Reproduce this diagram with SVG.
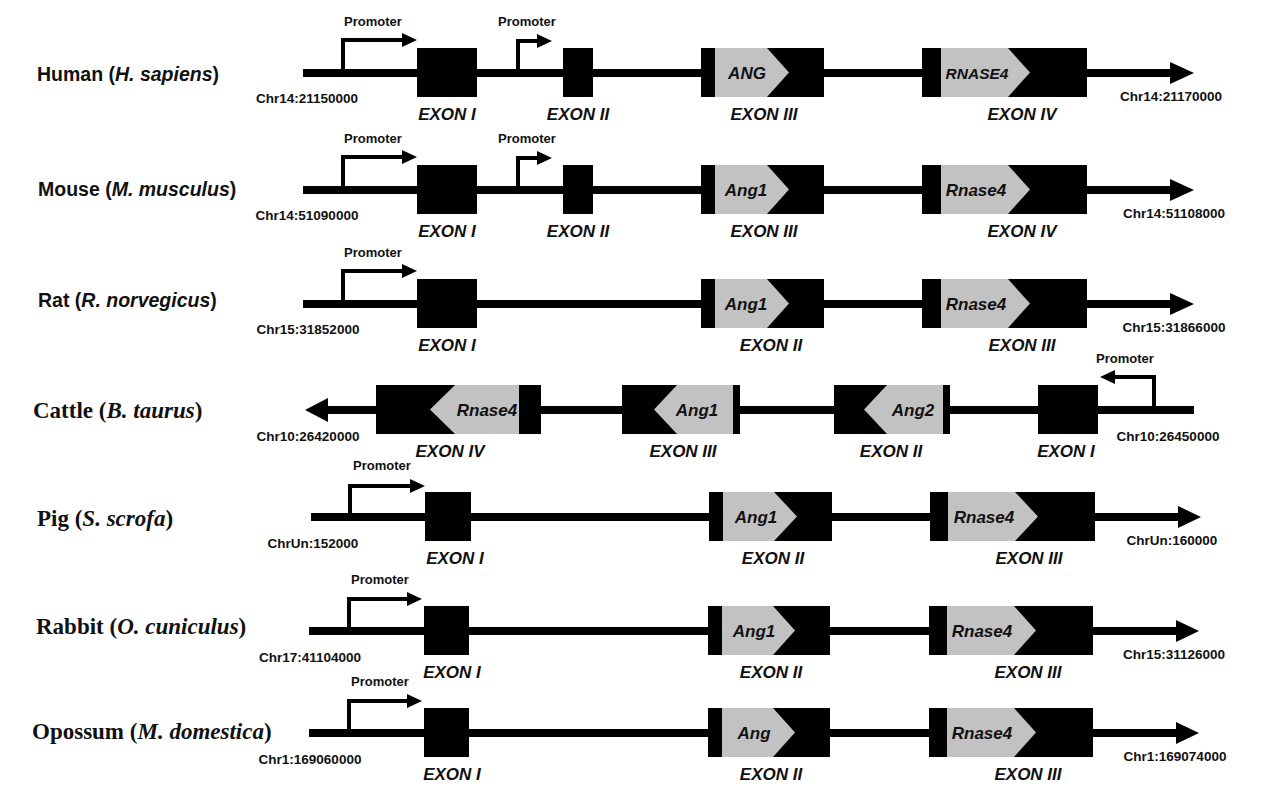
<svg xmlns="http://www.w3.org/2000/svg" width="1269" height="799" viewBox="0 0 1269 799">
<style>
.bb{stroke:#000;stroke-width:8;fill:none}
.ah{fill:#000}
.ex{fill:#000}
.gr{fill:#c2c2c2}
.pr{fill:none;stroke:#000;stroke-width:4}
.pt{font-family:"Liberation Sans",Arial,sans-serif;font-weight:bold;font-size:13px;text-anchor:middle;fill:#111}
.chr{font-family:"Liberation Sans",Arial,sans-serif;font-weight:bold;font-size:13.5px;text-anchor:middle;fill:#111}
.exl{font-family:"Liberation Sans",Arial,sans-serif;font-weight:bold;font-style:italic;font-size:17px;text-anchor:middle;fill:#111}
.gn{font-family:"Liberation Sans",Arial,sans-serif;font-weight:bold;font-style:italic;font-size:17px;text-anchor:middle;fill:#111}
.sps{font-family:"Liberation Sans",Arial,sans-serif;font-weight:bold;font-size:19.5px;fill:#111}
.spr{font-family:"Liberation Serif","Times New Roman",serif;font-weight:bold;font-size:23px;fill:#111}
.i{font-style:italic}
</style>
<rect width="1269" height="799" fill="#fff"/>

<g id="connectors">
  <!-- Human -->
  <line class="bb" x1="303" y1="73" x2="1172" y2="73"/>
  <polygon class="ah" points="1170,62 1194,73 1170,84"/>
  <path class="pr" d="M343,73 V40 H404"/>
  <polygon class="ah" points="402,33 417,40 402,47"/>
  <path class="pr" d="M518,73 V41 H539"/>
  <polygon class="ah" points="537,34 552,41 537,48"/>
  <!-- Mouse -->
  <line class="bb" x1="303" y1="190" x2="1172" y2="190"/>
  <polygon class="ah" points="1170,179 1194,190 1170,201"/>
  <path class="pr" d="M343,190 V157 H404"/>
  <polygon class="ah" points="402,150 417,157 402,164"/>
  <path class="pr" d="M518,190 V158 H539"/>
  <polygon class="ah" points="537,151 552,158 537,165"/>
  <!-- Rat -->
  <line class="bb" x1="303" y1="304" x2="1172" y2="304"/>
  <polygon class="ah" points="1170,293 1194,304 1170,315"/>
  <path class="pr" d="M343,304 V271 H404"/>
  <polygon class="ah" points="402,264 417,271 402,278"/>
  <!-- Cattle -->
  <line class="bb" x1="326" y1="410" x2="1194" y2="410"/>
  <polygon class="ah" points="328,398 305,410 328,422"/>
  <path class="pr" d="M1154,410 V377 H1113"/>
  <polygon class="ah" points="1115,370 1100,377 1115,384"/>
  <!-- Pig -->
  <line class="bb" x1="311" y1="517" x2="1180" y2="517"/>
  <polygon class="ah" points="1178,506 1201,517 1178,528"/>
  <path class="pr" d="M350,517 V486 H412"/>
  <polygon class="ah" points="410,479 425,486 410,493"/>
  <!-- Rabbit -->
  <line class="bb" x1="309" y1="631" x2="1178" y2="631"/>
  <polygon class="ah" points="1176,620 1199,631 1176,642"/>
  <path class="pr" d="M349,631 V599 H409"/>
  <polygon class="ah" points="407,592 422,599 407,606"/>
  <!-- Opossum -->
  <line class="bb" x1="309" y1="733" x2="1178" y2="733"/>
  <polygon class="ah" points="1176,722 1199,733 1176,744"/>
  <path class="pr" d="M349,733 V701 H409"/>
  <polygon class="ah" points="407,694 422,701 407,708"/>
</g>

<!-- Species labels -->
<g id="labels">
  <text class="sps" x="37" y="81">Human (<tspan class="i">H. sapiens</tspan>)</text>
  <text class="sps" x="38" y="196">Mouse (<tspan class="i">M. musculus</tspan>)</text>
  <text class="sps" x="38" y="307">Rat (<tspan class="i">R. norvegicus</tspan>)</text>
  <text class="spr" x="33" y="418">Cattle (<tspan class="i">B. taurus</tspan>)</text>
  <text class="spr" x="37" y="526">Pig (<tspan class="i">S. scrofa</tspan>)</text>
  <text class="spr" x="36" y="634">Rabbit (<tspan class="i">O. cuniculus</tspan>)</text>
  <text class="spr" x="32" y="739">Opossum (<tspan class="i">M. domestica</tspan>)</text>

  <text class="pt" x="373" y="26">Promoter</text>
  <text class="pt" x="527" y="26">Promoter</text>
  <text class="pt" x="373" y="143">Promoter</text>
  <text class="pt" x="527" y="143">Promoter</text>
  <text class="pt" x="373" y="257">Promoter</text>
  <text class="pt" x="1125" y="363">Promoter</text>
  <text class="pt" x="382" y="470">Promoter</text>
  <text class="pt" x="380" y="584">Promoter</text>
  <text class="pt" x="380" y="686">Promoter</text>

  <text class="chr" x="307" y="103">Chr14:21150000</text>
  <text class="chr" x="1171" y="101">Chr14:21170000</text>
  <text class="chr" x="307" y="220">Chr14:51090000</text>
  <text class="chr" x="1174" y="218">Chr14:51108000</text>
  <text class="chr" x="308" y="334">Chr15:31852000</text>
  <text class="chr" x="1174" y="332">Chr15:31866000</text>
  <text class="chr" x="308" y="441">Chr10:26420000</text>
  <text class="chr" x="1168" y="441">Chr10:26450000</text>
  <text class="chr" x="313" y="548">ChrUn:152000</text>
  <text class="chr" x="1172" y="545">ChrUn:160000</text>
  <text class="chr" x="310" y="662">Chr17:41104000</text>
  <text class="chr" x="1174" y="659">Chr15:31126000</text>
  <text class="chr" x="310" y="764">Chr1:169060000</text>
  <text class="chr" x="1175" y="761">Chr1:169074000</text>
</g>

<!-- Human exons -->
<g id="human-exon1"><rect class="ex" x="417" y="48" width="60" height="49"/><text class="exl" x="447" y="120">EXON I</text></g>
<g id="human-exon2"><rect class="ex" x="563" y="48" width="30" height="49"/><text class="exl" x="578" y="120">EXON II</text></g>
<g id="human-exon3"><rect class="ex" x="701" y="48" width="123" height="49"/><polygon class="gr" points="715,48 767,48 789,72.5 767,97 715,97"/><text class="gn" x="747" y="79">ANG</text><text class="exl" x="764" y="120">EXON III</text></g>
<g id="human-exon4"><rect class="ex" x="922" y="48" width="165" height="49"/><polygon class="gr" points="941,48 1008,48 1030,72.5 1008,97 941,97"/><text class="gn" x="977" y="79" style="font-size:15.5px">RNASE4</text><text class="exl" x="1022" y="120">EXON IV</text></g>

<!-- Mouse exons -->
<g id="mouse-exon1"><rect class="ex" x="417" y="165" width="60" height="49"/><text class="exl" x="447" y="237">EXON I</text></g>
<g id="mouse-exon2"><rect class="ex" x="563" y="165" width="30" height="49"/><text class="exl" x="578" y="237">EXON II</text></g>
<g id="mouse-exon3"><rect class="ex" x="701" y="165" width="123" height="49"/><polygon class="gr" points="715,165 767,165 789,189.5 767,214 715,214"/><text class="gn" x="746" y="196">Ang1</text><text class="exl" x="764" y="237">EXON III</text></g>
<g id="mouse-exon4"><rect class="ex" x="922" y="165" width="165" height="49"/><polygon class="gr" points="941,165 1008,165 1030,189.5 1008,214 941,214"/><text class="gn" x="976" y="196">Rnase4</text><text class="exl" x="1022" y="237">EXON IV</text></g>

<!-- Rat exons -->
<g id="rat-exon1"><rect class="ex" x="417" y="279" width="60" height="49"/><text class="exl" x="447" y="351">EXON I</text></g>
<g id="rat-exon2"><rect class="ex" x="701" y="279" width="123" height="49"/><polygon class="gr" points="715,279 767,279 789,303.5 767,328 715,328"/><text class="gn" x="746" y="310">Ang1</text><text class="exl" x="771" y="351">EXON II</text></g>
<g id="rat-exon3"><rect class="ex" x="922" y="279" width="165" height="49"/><polygon class="gr" points="941,279 1008,279 1030,303.5 1008,328 941,328"/><text class="gn" x="976" y="310">Rnase4</text><text class="exl" x="1022" y="351">EXON III</text></g>

<!-- Cattle exons -->
<g id="cattle-exon4"><rect class="ex" x="376" y="385" width="165" height="49"/><polygon class="gr" points="519,385 455,385 430,409.5 455,434 519,434"/><text class="gn" x="487" y="416">Rnase4</text><text class="exl" x="450" y="457">EXON IV</text></g>
<g id="cattle-exon3"><rect class="ex" x="622" y="385" width="118" height="49"/><polygon class="gr" points="733,385 677,385 654,409.5 677,434 733,434"/><text class="gn" x="697" y="416">Ang1</text><text class="exl" x="683" y="457">EXON III</text></g>
<g id="cattle-exon2"><rect class="ex" x="834" y="385" width="116" height="49"/><polygon class="gr" points="943,385 887,385 864,409.5 887,434 943,434"/><text class="gn" x="913" y="416">Ang2</text><text class="exl" x="891" y="457">EXON II</text></g>
<g id="cattle-exon1"><rect class="ex" x="1038" y="385" width="60" height="49"/><text class="exl" x="1066" y="457">EXON I</text></g>

<!-- Pig exons -->
<g id="pig-exon1"><rect class="ex" x="425" y="492" width="46" height="49"/><text class="exl" x="455" y="564">EXON I</text></g>
<g id="pig-exon2"><rect class="ex" x="709" y="492" width="123" height="49"/><polygon class="gr" points="723,492 774,492 797,516.5 774,541 723,541"/><text class="gn" x="756" y="523">Ang1</text><text class="exl" x="773" y="564">EXON II</text></g>
<g id="pig-exon3"><rect class="ex" x="930" y="492" width="165" height="49"/><polygon class="gr" points="948,492 1015,492 1038,516.5 1015,541 948,541"/><text class="gn" x="984" y="523">Rnase4</text><text class="exl" x="1029" y="564">EXON III</text></g>

<!-- Rabbit exons -->
<g id="rabbit-exon1"><rect class="ex" x="424" y="606" width="45" height="49"/><text class="exl" x="452" y="678">EXON I</text></g>
<g id="rabbit-exon2"><rect class="ex" x="708" y="606" width="122" height="49"/><polygon class="gr" points="722,606 773,606 795,630.5 773,655 722,655"/><text class="gn" x="754" y="637">Ang1</text><text class="exl" x="771" y="678">EXON II</text></g>
<g id="rabbit-exon3"><rect class="ex" x="929" y="606" width="164" height="49"/><polygon class="gr" points="947,606 1014,606 1036,630.5 1014,655 947,655"/><text class="gn" x="982" y="637">Rnase4</text><text class="exl" x="1028" y="678">EXON III</text></g>

<!-- Opossum exons -->
<g id="opossum-exon1"><rect class="ex" x="424" y="708" width="45" height="49"/><text class="exl" x="452" y="780">EXON I</text></g>
<g id="opossum-exon2"><rect class="ex" x="708" y="708" width="122" height="49"/><polygon class="gr" points="722,708 773,708 795,732.5 773,757 722,757"/><text class="gn" x="754" y="739">Ang</text><text class="exl" x="771" y="780">EXON II</text></g>
<g id="opossum-exon3"><rect class="ex" x="929" y="708" width="164" height="49"/><polygon class="gr" points="947,708 1014,708 1036,732.5 1014,757 947,757"/><text class="gn" x="982" y="739">Rnase4</text><text class="exl" x="1028" y="780">EXON III</text></g>
</svg>
